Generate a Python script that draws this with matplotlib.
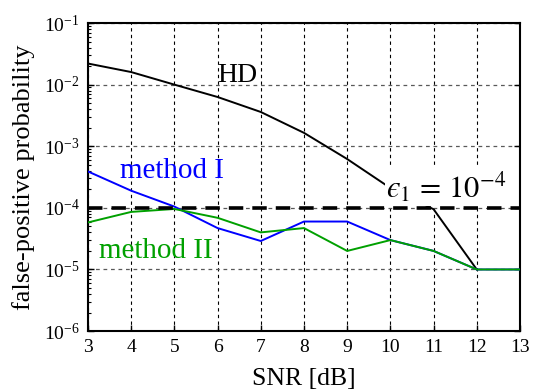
import matplotlib
matplotlib.use("Agg")
import matplotlib.pyplot as plt
import numpy as np

plt.rcParams.update({
    "font.family": "serif",
    "font.serif": ["Liberation Serif", "DejaVu Serif"],
    "mathtext.fontset": "stix",
    "xtick.direction": "in",
    "ytick.direction": "in",
    "axes.linewidth": 1.5,
})

snr = [3, 4, 5, 6, 7, 8, 9, 10, 11, 12, 13]
hd = [2.2e-2, 1.6e-2, 1.0e-2, 6.3e-3, 3.6e-3, 1.65e-3, 6.2e-4, 2.1e-4, 9.5e-5, 1.0e-5]
method1 = [3.9e-4, 1.9e-4, 1.05e-4, 4.7e-5, 2.9e-5, 6.0e-5, 6.0e-5, 3.0e-5, 2.0e-5, 1.0e-5, 1.0e-5]
method2 = [5.8e-5, 8.6e-5, 9.6e-5, 6.9e-5, 4.0e-5, 4.7e-5, 2.0e-5, 3.0e-5, 2.0e-5, 1.0e-5, 1.0e-5]
eps1 = 1e-4

fig = plt.figure(figsize=(5.33, 3.9), dpi=100)
ax = fig.add_axes([0.165, 0.151, 0.8106, 0.79])

ax.plot(snr[:len(hd)], hd, color="black", lw=1.4, zorder=3)
ax.plot(snr, method1, color="#0000ff", lw=1.4, zorder=3)
ax.plot(snr, method2, color="#00a000", lw=1.4, zorder=4)
ax.axhline(eps1, color="black", lw=2.6, ls=(0, (4, 2.5)), zorder=5)

ax.set_yscale("log")
ax.set_xlim(3, 13)
ax.set_ylim(1e-6, 1e-1)
ax.set_xticks(snr)
ax.set_yticks([1e-6, 1e-5, 1e-4, 1e-3, 1e-2, 1e-1])
ax.xaxis.grid(True, which="major", color="black", ls=(0, (3, 3)), lw=0.8)
ax.yaxis.grid(True, which="major", color="0.35", ls=(0, (3, 3)), lw=0.9)
ax.tick_params(which="major", labelsize=14, length=4, width=1, top=False, right=True, pad=6)
ax.tick_params(which="minor", length=2, width=0.8, right=False)

ax.set_xlabel("SNR [dB]", fontsize=18.5, labelpad=8)
ax.set_ylabel("false-positive probability", fontsize=19, labelpad=6)

ax.text(5.99, 1.11e-2, "HD", fontsize=20, va="baseline", ha="left", zorder=6)
ax.text(3.74, 3.1e-4, "method I", fontsize=21, color="#0000ff", va="baseline", ha="left", zorder=6)
ax.text(3.25, 1.55e-5, "method II", fontsize=21, color="#00a000", va="baseline", ha="left", zorder=6)
ax.text(9.9, 1.5e-4, "$\u03f5_1\\,=\\,10^{-4}$", fontsize=22, va="baseline", ha="left", zorder=6,
        bbox=dict(facecolor="white", edgecolor="none", pad=1.0))

fig.savefig("out.png", dpi=100)
